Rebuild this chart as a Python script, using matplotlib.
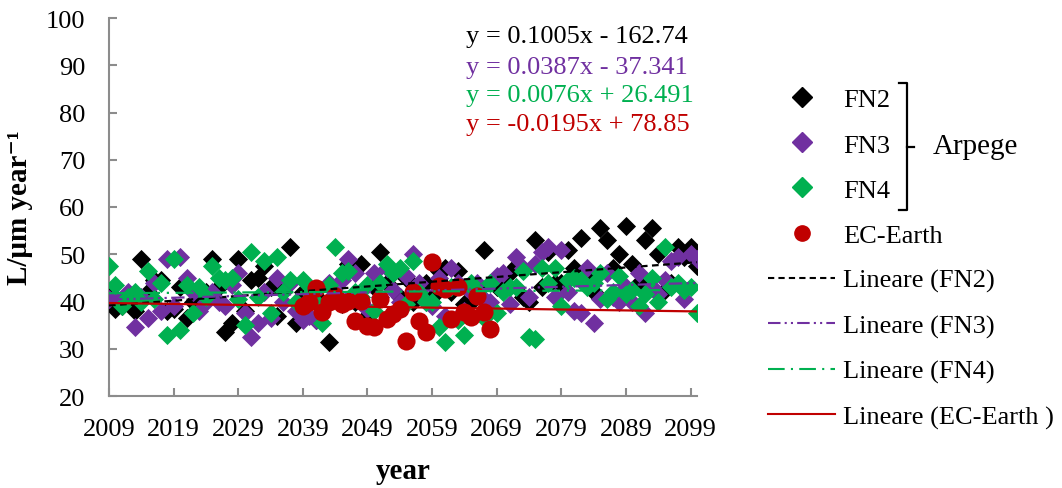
import numpy as np
import matplotlib.pyplot as plt
from matplotlib.lines import Line2D

plt.rcParams['font.family'] = ['Liberation Serif', 'DejaVu Serif']

# annual values, Arpege runs 2009-2100
years = np.arange(2009, 2101)
fn2 = [41.5, 38.5, 39, 40, 38, 49, 42, 44.5, 44.5, 38,
       38.5, 43, 36.5, 40, 39.5, 42, 49, 43, 33.5, 35.5,
       49, 38, 44.5, 45, 47.5, 43, 37, 43.5, 51.5, 35.5,
       42, 41, 36, 40, 31.5, 41, 39.5, 48, 40, 48,
       37, 43, 50.5, 44, 46, 41, 45, 40, 43, 44,
       41, 46.5, 47, 42, 46.5, 39.5, 40, 43, 51, 38,
       43, 45, 46, 47.5, 41, 40, 53, 43, 50.5, 44,
       44, 51, 47, 53.5, 45, 42, 55.5, 53, 47, 50,
       56, 48, 44, 53, 55.5, 50, 42.5, 44, 51.5, 49.5,
       51.5, 47.5]
fn3 = [40.5, 41, 40, 42, 34.5, 41, 36.5, 44, 38, 49,
       39, 49.5, 45, 42, 38, 40, 42, 40, 39, 43.5,
       46, 37.5, 32.5, 35.5, 42, 36.5, 45, 40, 44, 38,
       36, 37, 36, 38.5, 44, 42, 44.5, 49, 46, 40,
       38.5, 46, 41, 47, 42.5, 40, 45.5, 50, 44, 40,
       39, 45, 37, 47, 44, 38, 42, 44, 40.5, 40,
       45.5, 46, 39.5, 49.5, 47, 41, 48, 50.5, 51.5, 41,
       51, 42, 38, 37.5, 47, 35.5, 40.5, 46, 41, 40,
       43, 40, 46, 37.5, 43, 41.5, 44.5, 48.5, 49.5, 40.5,
       50, 49]
fn4 = [47.5, 43.5, 39, 41, 42, 40, 46.5, 40.5, 44, 33,
       49, 34, 43.5, 37.5, 43, 41, 47.5, 45, 44.5, 45,
       40.5, 35, 50.5, 41, 48.5, 37.5, 49.5, 42, 44.5, 40,
       44.5, 42, 40, 35.5, 43.5, 51.5, 46, 46.5, 42, 41,
       43.5, 38, 44, 48, 46, 47, 39.5, 48.5, 42, 40,
       40, 34.5, 31.5, 43, 36, 33, 44, 42, 36.5, 44,
       37.5, 42, 43, 43, 46.5, 32.5, 32, 47, 44, 47,
       39, 44.5, 45, 44.5, 43, 44, 46, 40.5, 42, 45.5,
       41.5, 42.5, 39, 41.5, 45, 40, 51.5, 43, 44, 42.5,
       43, 37.5]

# EC-Earth run
ec_years = np.arange(2039, 2069)
ec = [39.0, 39.9, 42.9, 37.8, 40.0, 41.2, 39.5, 40.1, 35.9, 40.1,
      34.8, 34.6, 40.5, 36.3, 37.4, 38.4, 31.6, 42.0, 35.9, 33.5,
      48.4, 43.3, 42.6, 36.3, 43.1, 37.8, 36.7, 41.2, 37.8, 34.2]

# linear trend coefficients (slope, intercept)
trend_fn2 = (0.1005, -162.74)
trend_fn3 = (0.0387, -37.341)
trend_fn4 = (0.0076, 26.491)
trend_ec = (-0.0195, 78.85)

c_fn2, c_fn3, c_fn4, c_ec = 'black', '#7030A0', '#00B050', '#C00000'

fig = plt.figure(figsize=(10.62, 4.89), dpi=100)
ax = fig.add_axes([109/1062, 1-397/489, 588/1062, 378/489])

ms_d = 95
ax.scatter(years, fn2, marker='D', s=ms_d, color=c_fn2, linewidths=0, zorder=3)
ax.scatter(years, fn3, marker='D', s=ms_d, color=c_fn3, linewidths=0, zorder=3)
ax.scatter(years, fn4, marker='D', s=ms_d, color=c_fn4, linewidths=0, zorder=3)
ax.scatter(ec_years, ec, marker='o', s=170, color=c_ec, linewidths=0, zorder=4)

xt = np.array([2009, 2100])
ls_fn2 = (0, (3, 2))
ls_fn3 = (0, (6, 2, 1, 2, 1, 2))
ls_fn4 = (0, (8, 3, 1, 3))
for (a, b), col, ls in [(trend_fn2, c_fn2, ls_fn2), (trend_fn3, c_fn3, ls_fn3),
                        (trend_fn4, c_fn4, ls_fn4), (trend_ec, c_ec, '-')]:
    ax.plot(xt, a * xt + b, color=col, linestyle=ls, linewidth=1.6, zorder=5)

ax.set_xlim(2009, 2100)
ax.set_ylim(20, 100)
ax.set_xticks(np.arange(2009, 2100, 10))
ax.set_yticks(np.arange(20, 101, 10))
for s in ['top', 'right']:
    ax.spines[s].set_visible(False)
for s in ['left', 'bottom']:
    ax.spines[s].set_color('#8c8c8c')
    ax.spines[s].set_linewidth(1.5)
ax.tick_params(colors='#8c8c8c', labelcolor='black', labelsize=19, width=1.5, length=6,
               direction='in')
ax.tick_params(axis='x', pad=16)
ax.tick_params(axis='y', pad=17)
ax.set_xlabel('year', fontsize=21, fontweight='bold', labelpad=12)
ax.set_ylabel('L/μm year⁻¹', fontsize=21, fontweight='bold')
ax.yaxis.set_label_coords(-0.129, 0.5)

# trend equations
eqs = [(trend_fn2, c_fn2, 37), (trend_fn3, c_fn3, 68), (trend_fn4, c_fn4, 96), (trend_ec, c_ec, 125)]
for (a, b), col, ypix in eqs:
    sign = '-' if b < 0 else '+'
    fig.text(466/1062, 1-ypix/489, f'y = {a:.4g}x {sign} {abs(b):g}', color=col,
             fontsize=19, va='center', ha='left')

handles = [
    Line2D([], [], marker='D', color=c_fn2, linestyle='none', markersize=10),
    Line2D([], [], marker='D', color=c_fn3, linestyle='none', markersize=10),
    Line2D([], [], marker='D', color=c_fn4, linestyle='none', markersize=10),
    Line2D([], [], marker='o', color=c_ec, linestyle='none', markersize=11),
    Line2D([], [], color=c_fn2, linestyle=ls_fn2, linewidth=1.5),
    Line2D([], [], color=c_fn3, linestyle=ls_fn3, linewidth=1.5),
    Line2D([], [], color=c_fn4, linestyle=ls_fn4, linewidth=1.5),
    Line2D([], [], color=c_ec, linestyle='-', linewidth=1.5),
]
labels = ['FN2', 'FN3', 'FN4', 'EC-Earth', 'Lineare (FN2)', 'Lineare (FN3)',
          'Lineare (FN4)', 'Lineare (EC-Earth )']
fig.legend(handles, labels, loc='upper left', bbox_to_anchor=(768/1062, 1-89/489),
           frameon=False, fontsize=19, handlelength=2.55, handletextpad=0.3,
           labelspacing=0.82, borderpad=0, borderaxespad=0)

# bracket grouping the Arpege runs
bx, y0, y1 = 907/1062, 1-84/489, 1-211/489
ym = (y0 + y1) / 2
fig.add_artist(Line2D([bx - 0.008, bx, bx, bx - 0.008], [y0, y0, y1, y1],
                      color='black', linewidth=1.6))
fig.add_artist(Line2D([bx, bx + 0.007], [ym, ym], color='black', linewidth=1.6))
fig.text(933/1062, ym, 'Arpege', fontsize=21, va='center', ha='left')

fig.savefig('out.png', dpi=100)
